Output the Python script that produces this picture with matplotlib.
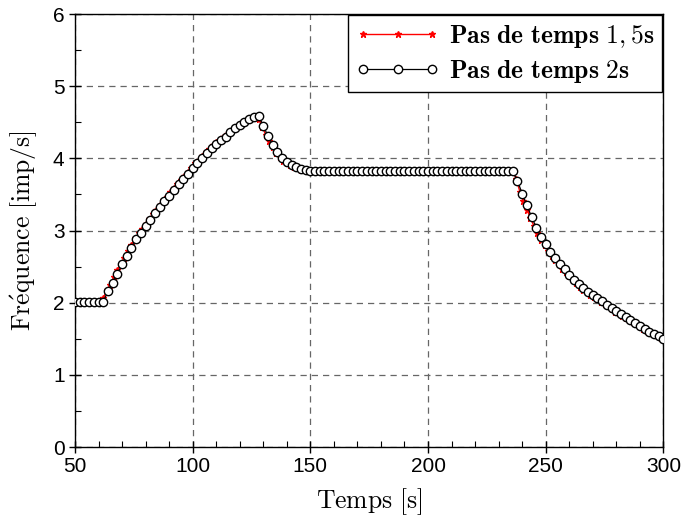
import numpy as np
import matplotlib
matplotlib.use("Agg")
import matplotlib.pyplot as plt
from matplotlib.ticker import MultipleLocator

plt.rcParams['mathtext.fontset'] = 'cm'

# ---------------- data ----------------
t_2s = np.arange(50, 301, 2)
f_2s = [
    2.01, 2.01, 2.01, 2.01, 2.01, 2.01, 2.01,
    2.16, 2.27, 2.40, 2.53, 2.64, 2.76, 2.88, 2.97, 3.06, 3.15,
    3.24, 3.32, 3.41, 3.48, 3.56, 3.64, 3.71, 3.78, 3.86, 3.94,
    4.01, 4.08, 4.14, 4.20, 4.25, 4.30, 4.36, 4.42, 4.46, 4.50,
    4.54, 4.57, 4.59,
    4.45, 4.31, 4.19, 4.09, 4.01, 3.95, 3.91, 3.88, 3.85, 3.835, 3.825,
    3.82, 3.82, 3.82, 3.82, 3.82, 3.82, 3.82, 3.82, 3.82, 3.82,
    3.82, 3.82, 3.82, 3.82, 3.82, 3.82, 3.82, 3.82, 3.82, 3.82,
    3.82, 3.82, 3.82, 3.82, 3.82, 3.82, 3.82, 3.82, 3.82, 3.82,
    3.82, 3.82, 3.82, 3.82, 3.82, 3.82, 3.82, 3.82, 3.82, 3.82,
    3.82, 3.82, 3.82,
    3.69, 3.51, 3.35, 3.19, 3.04, 2.91, 2.81, 2.70, 2.62, 2.54,
    2.46, 2.39, 2.32, 2.26, 2.20, 2.15, 2.10, 2.06, 2.02, 1.97,
    1.93, 1.88, 1.84, 1.80, 1.76, 1.72, 1.68, 1.64, 1.60, 1.57,
    1.54, 1.50,
]

t_15s = np.arange(50, 299.5, 1.5)
f_15s = [
    2.01, 2.01, 2.01, 2.01, 2.01, 2.01, 2.01, 2.01,
    2.06, 2.17, 2.25, 2.35, 2.45, 2.54, 2.62, 2.71, 2.80, 2.89,
    2.96, 3.02, 3.09, 3.16, 3.23, 3.29, 3.35, 3.42, 3.47, 3.53,
    3.59, 3.65, 3.70, 3.75, 3.81, 3.87, 3.93, 3.98, 4.03, 4.09,
    4.13, 4.18, 4.22, 4.26, 4.29, 4.34, 4.38, 4.42, 4.45, 4.48,
    4.51, 4.54, 4.57, 4.58,
    4.54, 4.44, 4.33, 4.24, 4.155, 4.08, 4.02, 3.97, 3.94, 3.91,
    3.88, 3.86, 3.845, 3.835, 3.827, 3.822,
    3.82, 3.82, 3.82, 3.82, 3.82, 3.82, 3.82, 3.82, 3.82, 3.82,
    3.82, 3.82, 3.82, 3.82, 3.82, 3.82, 3.82, 3.82, 3.82, 3.82,
    3.82, 3.82, 3.82, 3.82, 3.82, 3.82, 3.82, 3.82, 3.82, 3.82,
    3.82, 3.82, 3.82, 3.82, 3.82, 3.82, 3.82, 3.82, 3.82, 3.82,
    3.82, 3.82, 3.82, 3.82, 3.82, 3.82, 3.82, 3.82, 3.82, 3.82,
    3.82, 3.82, 3.82, 3.82, 3.82, 3.82, 3.82,
    3.71, 3.54, 3.41, 3.29, 3.175, 3.06, 2.96, 2.875, 2.80, 2.72,
    2.65, 2.59, 2.53, 2.47, 2.42, 2.365, 2.31, 2.27, 2.22, 2.18,
    2.145, 2.11, 2.08, 2.05, 2.015, 1.98, 1.95, 1.91, 1.876, 1.85,
    1.82, 1.79, 1.756, 1.73, 1.70, 1.67, 1.636, 1.61, 1.58, 1.56,
    1.536, 1.51,
]

label_15 = r'$\mathbf{Pas\ de\ temps\ 1,5s}$'
label_2 = r'$\mathbf{Pas\ de\ temps\ 2s}$'
xlabel = r'$\mathrm{Temps\ [s]}$'
ylabel = r'$\mathrm{Fr\acute{e}quence\ [imp/s]}$'

x_ticks = [50, 100, 150, 200, 250, 300]
y_ticks = [0, 1, 2, 3, 4, 5, 6]

# ---------------- figure ----------------
fig = plt.figure(figsize=(6.83, 5.27), dpi=100)
ax = fig.add_axes([0.1098, 0.1518, 0.8615, 0.8216])

ax.plot(t_15s, f_15s, color='red', lw=1.0, marker='*', ms=5,
        mec='red', mfc='red', label=label_15, zorder=3)
ax.plot(t_2s, f_2s, color='black', lw=0.9, marker='o', ms=6,
        mfc='white', mec='black', mew=1.0, label=label_2, zorder=4)

ax.set_xlim(50, 300)
ax.set_ylim(0, 6)
ax.set_xticks(x_ticks)
ax.set_yticks(y_ticks)
ax.xaxis.set_minor_locator(MultipleLocator(10))
ax.yaxis.set_minor_locator(MultipleLocator(0.5))

ax.grid(True, which='major', linestyle=(0, (5, 4)), color='#666666', lw=0.9)
ax.set_axisbelow(True)

ax.tick_params(which='major', direction='inout', length=8, width=1,
               labelsize=15, top=False, right=False)
ax.tick_params(which='minor', direction='in', length=4, width=0.8,
               top=False, right=False)
for lab in ax.get_xticklabels() + ax.get_yticklabels():
    lab.set_family('Liberation Sans')

for s in ax.spines.values():
    s.set_linewidth(1.0)
    s.set_color('black')

ax.set_xlabel(xlabel, fontsize=18.5, labelpad=7)
ax.set_ylabel(ylabel, fontsize=18.5, labelpad=9)

leg = ax.legend(loc='upper right', fontsize=18.5, numpoints=3,
                handlelength=3.3, frameon=True, fancybox=False,
                framealpha=1, edgecolor='black', borderaxespad=0.05,
                handletextpad=0.35, borderpad=0.3, labelspacing=0.3)
leg.get_frame().set_linewidth(1.0)

fig.savefig('out.png', dpi=100)
